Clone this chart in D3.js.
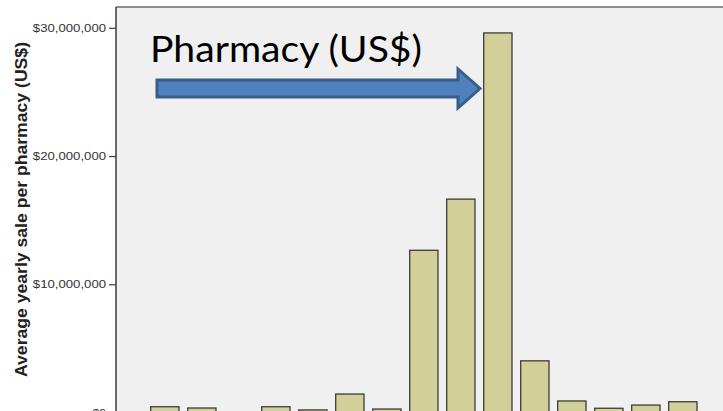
<!DOCTYPE html>
<html>
<head>
<meta charset="utf-8">
<script src="https://cdn.jsdelivr.net/npm/d3@7/dist/d3.min.js"></script>
<style>
html,body{margin:0;padding:0;background:#fff;overflow:hidden;}
svg{display:block;}
</style>
</head>
<body>
<svg id="chart" width="723" height="411"></svg>
<script>
const categories = ["1","2","3","4","5","6","7","8","9","10","11","12","13","14","15","16"];
const values = [450000, 350000, 0, 450000, 200000, 1440000, 270000, 12650000, 16640000, 29600000, 4030000, 900000, 330000, 580000, 840000, 0];
const tickValues = [0, 10000000, 20000000, 30000000];
const yTitle = "Average yearly sale per pharmacy (US$)";
const annotation = "Pharmacy (US$)";

(function () {
const svg = d3.select("#chart");
const pLeft = 116, pTop = 7, pBottom = 412.5;
const x = d3.scaleBand().domain(categories).range([146.35, 146.35 + 37 * categories.length])
  .paddingInner(0.235).paddingOuter(0.1175);
const y = d3.scaleLinear().domain([0, 30000000]).range([pBottom, 27.8]);

// plot background
svg.append("rect").attr("x", pLeft).attr("y", pTop).attr("width", 723 - pLeft + 10).attr("height", 420 - pTop)
  .attr("fill", "#f0f0f0");
// top border
svg.append("line").attr("x1", pLeft).attr("x2", 730).attr("y1", pTop).attr("y2", pTop)
  .attr("stroke", "#6a6a6a").attr("stroke-width", 1.5);

// bars
svg.append("g").selectAll("rect").data(values).join("rect")
  .attr("x", (d, i) => x(categories[i]))
  .attr("width", x.bandwidth())
  .attr("y", d => y(d))
  .attr("height", d => Math.max(0, y(0) - y(d)))
  .attr("fill", d => d > 0 ? "#d3cf98" : "none")
  .attr("stroke", d => d > 0 ? "#3b3b3b" : "none")
  .attr("stroke-width", 1.3);

// y axis
const fmt = d => "$" + d3.format(",")(d);
const yAxis = d3.axisLeft(y).tickValues(tickValues).tickSize(7).tickPadding(3).tickFormat(fmt);
const ga = svg.append("g").attr("transform", `translate(${pLeft},0)`).call(yAxis);
ga.select(".domain").attr("stroke", "#3a3a3a").attr("stroke-width", 1.5).attr("d", `M0,${pTop}V420`);
ga.selectAll(".tick line").attr("stroke", "#3a3a3a").attr("stroke-width", 1.2);
ga.selectAll(".tick text")
  .attr("font-family", "Liberation Sans, Arial, sans-serif").attr("font-size", 11.5).attr("fill", "#333")
  .attr("textLength", d => fmt(d).length * 6.65).attr("lengthAdjust", "spacingAndGlyphs");

// y title
svg.append("text").attr("transform", "translate(26.5,209.5) rotate(-90)")
  .attr("text-anchor", "middle")
  .attr("font-family", "Liberation Sans, Arial, sans-serif").attr("font-weight", "bold").attr("font-size", 17)
  .attr("textLength", 335).attr("lengthAdjust", "spacingAndGlyphs")
  .attr("fill", "#222").text(yTitle);

// annotation text
svg.append("text").attr("x", 150).attr("y", 62)
  .attr("font-family", "Lato, 'Open Sans', sans-serif").attr("font-size", 36)
  .attr("textLength", 272).attr("lengthAdjust", "spacingAndGlyphs")
  .attr("fill", "#000").text(annotation);

// annotation arrow
const ax0 = 157, ax1 = 480, sTop = 80, sBot = 97, hTop = 69, hBot = 108, hx = 458;
svg.append("path")
  .attr("d", `M${ax0},${sTop}L${hx},${sTop}L${hx},${hTop}L${ax1},${(hTop+hBot)/2}L${hx},${hBot}L${hx},${sBot}L${ax0},${sBot}Z`)
  .attr("fill", "#4f81bd").attr("stroke", "#385d8a").attr("stroke-width", 3).attr("stroke-linejoin", "miter");
})();
</script>
</body>
</html>
